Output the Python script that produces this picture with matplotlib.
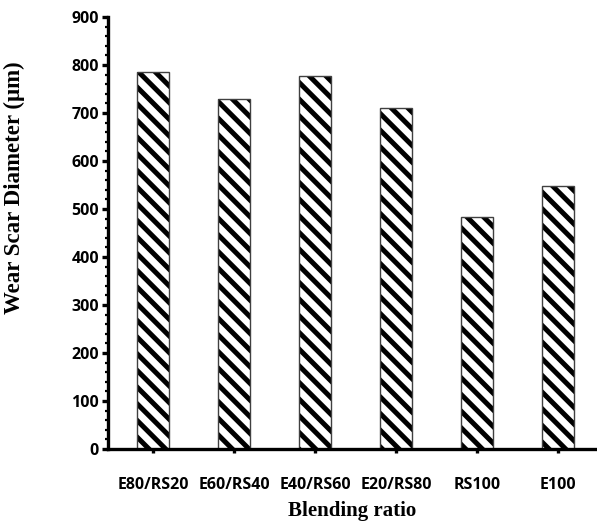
import matplotlib
matplotlib.use("Agg")
import matplotlib.pyplot as plt
from matplotlib.ticker import MultipleLocator

categories = ["E80/RS20", "E60/RS40", "E40/RS60", "E20/RS80", "RS100", "E100"]
wear_scar = [785, 729, 777, 711, 484, 547]

plt.rcParams['hatch.linewidth'] = 3.6
plt.rcParams['hatch.color'] = 'black'

fig = plt.figure(figsize=(5.97, 5.21), dpi=100)
ax = fig.add_axes([108/597, 72/521, 1 - 108/597, (449-17)/521])

x = list(range(len(categories)))
ax.bar(x, wear_scar, width=0.4, facecolor='white', edgecolor='black',
       linewidth=0, hatch='\\\\')
ax.bar(x, wear_scar, width=0.4, facecolor='none', edgecolor='#404040',
       linewidth=1.0)

ax.set_xlim(-0.555, 5.48)
ax.set_ylim(0, 900)
ax.yaxis.set_major_locator(MultipleLocator(100))
ax.yaxis.set_minor_locator(MultipleLocator(20))
ax.set_xticks(x)
ax.set_xticklabels(categories)

for s in ['top', 'right']:
    ax.spines[s].set_visible(False)
for s in ['left', 'bottom']:
    ax.spines[s].set_linewidth(2.4)
    ax.spines[s].set_color('black')
    ax.spines[s].set_zorder(5)

ax.tick_params(axis='y', which='major', length=4, width=2.4, pad=2.5)
ax.tick_params(axis='y', which='minor', length=2.5, width=1.6)
ax.tick_params(axis='x', which='major', length=3, width=2.4, pad=17)

for lab in ax.get_xticklabels() + ax.get_yticklabels():
    lab.set_fontfamily(['Open Sans', 'DejaVu Sans'])
    lab.set_fontweight('bold')
    lab.set_fontsize(11.5)

ax.set_xlabel("Blending ratio", labelpad=0,
              family=['Liberation Serif', 'DejaVu Serif'], weight='bold', size=15)
ax.xaxis.set_label_coords(0.5, -(501 - 449) / 432)
ax.set_ylabel("Wear Scar Diameter (μm)", labelpad=0,
              family=['Liberation Serif', 'DejaVu Serif'], weight='bold', size=16.5)
ax.yaxis.set_label_coords(-(108 - 25) / 489, (449 - 188) / 432)

fig.savefig("out.png", dpi=100)
